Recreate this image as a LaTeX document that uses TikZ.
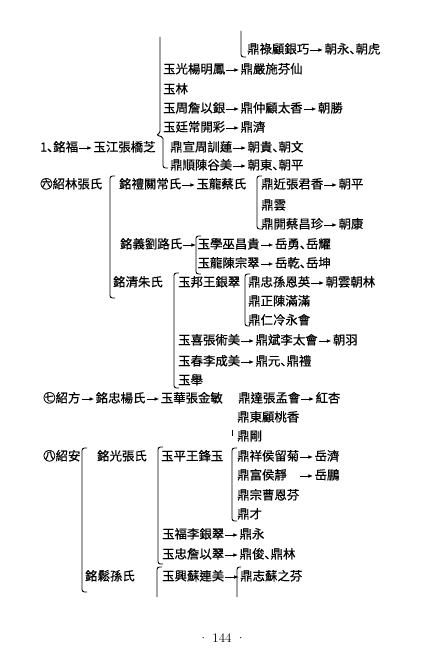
\documentclass[tikz,border=0pt]{standalone}
\usepackage{fontspec}
\newfontfamily\cjk[FakeBold=0.5]{Noto Sans CJK TC}
\newfontfamily\cjkjp[FakeBold=0.5]{Noto Sans CJK JP}
\usetikzlibrary{positioning,arrows.meta}
\newcommand\dunhao{{\cjkjp 、}\kern-0.5em}
\tikzset{
  entry/.style={inner sep=0pt, anchor=west, text height=9.5pt, text depth=2.5pt,
    font=\cjk\fontsize{12.4}{14}\selectfont},
  link/.style={-{Latex[length=4.5pt,width=3.6pt]}, line width=0.6pt,
    shorten <=1pt, shorten >=1.5pt},
  famline/.style={line width=0.9pt, rounded corners=2.5pt}
}
\begin{document}
\begin{tikzpicture}[x=1pt, y=-1pt, node distance=15pt]
    \useasboundingbox[fill=white] (0,0) rectangle (436,650);

    % Branch of 1、銘福 (continued from the previous page)
    \draw[famline] (241,31) -- (241,57) -- (246,57);
    \node[entry] (lu) at (247,50) {鼎祿顧銀巧};
    \node[entry, right=of lu] (luson) {朝永\dunhao 朝虎};
    \draw[link] (lu) -- (luson);

    \draw[famline] (160,37) -- (160,129) .. controls (160,133) and (158,134) .. (156,135)
        .. controls (160,136) and (163,137) .. (163,141) -- (163,168) -- (168,168);
    \node[entry] (gy) at (163,70) {玉光楊明鳳};
    \node[entry, right=of gy] (gyson) {鼎嚴施芬仙};
    \draw[link] (gy) -- (gyson);
    \node[entry] (yl) at (163,90) {玉林};
    \node[entry] (yz) at (163,109) {玉周詹以銀};
    \node[entry, right=of yz] (yzson) {鼎仲顧太香};
    \node[entry, right=of yzson] (yzgson) {朝勝};
    \draw[link] (yz) -- (yzson);
    \draw[link] (yzson) -- (yzgson);
    \node[entry] (yt) at (163,128) {玉廷常開彩};
    \node[entry, right=of yt] (ytson) {鼎濟};
    \draw[link] (yt) -- (ytson);

    \node[entry] (mf) at (40,148) {1\dunhao 銘福};
    \node[entry, right=of mf] (yj1) {玉江張橋芝};
    \draw[link] (mf) -- (yj1);
    \node[entry] (dx) at (170,148) {鼎宣周訓蓮};
    \node[entry, right=of dx] (dxson) {朝貴\dunhao 朝文};
    \draw[link] (dx) -- (dxson);
    \node[entry] (ds) at (170,166) {鼎順陳谷美};
    \node[entry, right=of ds] (dsson) {朝東\dunhao 朝平};
    \draw[link] (ds) -- (dsson);

    % Branch six: 紹林張氏
    \node[entry] (s6) at (40,185) {㊅紹林張氏};
    \draw[famline] (115,176) -- (110,176) -- (110,298) -- (115,298);
    \node[entry] (ml) at (119,185) {銘禮關常氏};
    \node[entry, right=of ml] (ylc1) {玉龍蔡氏};
    \draw[link] (ml) -- (ylc1);
    \draw[famline] (262,176) -- (257,176) -- (257,229) -- (262,229);
    \node[entry] (dj) at (261,185) {鼎近張君香};
    \node[entry, right=of dj] (djson) {朝平};
    \draw[link] (dj) -- (djson);
    \node[entry] (dy) at (261,206) {鼎雲};
    \node[entry] (dk) at (261,225) {鼎開蔡昌珍};
    \node[entry, right=of dk] (dkson) {朝康};
    \draw[link] (dk) -- (dkson);

    \node[entry] (my) at (120,245) {銘義劉路氏};
    \draw[famline] (201,236) -- (196,236) -- (196,274) -- (201,274);
    \node[entry, right=of my] (yxw) {玉學巫昌貴};
    \node[entry, right=of yxw] (yxwson) {岳勇\dunhao 岳耀};
    \draw[link] (my) -- (yxw);
    \draw[link] (yxw) -- (yxwson);
    \node[entry] (ylc2) at (yxw.west |- 0,264) {玉龍陳宗翠};
    \node[entry, right=of ylc2] (ylc2son) {岳乾\dunhao 岳坤};
    \draw[link] (ylc2) -- (ylc2son);

    \node[entry] (mq) at (113,283) {銘清朱氏};
    \draw[famline] (179,273) -- (174,273) -- (174,388) -- (179,388);
    \node[entry] (yb) at (178,283) {玉邦王銀翠};
    \draw[famline] (250,274) -- (245,274) -- (245,326) -- (250,326);
    \node[entry] (dzs) at (248,283) {鼎忠孫恩英};
    \node[entry, right=of dzs] (dzsson) {朝雲朝林};
    \draw[link] (dzs) -- (dzsson);
    \node[entry] (dzc) at (248,302) {鼎正陳滿滿};
    \node[entry] (drl) at (248,321) {鼎仁冷永會};
    \node[entry] (yxz) at (178,341) {玉喜張術美};
    \node[entry, right=of yxz] (yxzson) {鼎斌李太會};
    \node[entry, right=of yxzson] (yxzgson) {朝羽};
    \draw[link] (yxz) -- (yxzson);
    \draw[link] (yxzson) -- (yxzgson);
    \node[entry] (ycl) at (178,362) {玉春李成美};
    \node[entry, right=of ycl] (yclson) {鼎元\dunhao 鼎禮};
    \draw[link] (ycl) -- (yclson);
    \node[entry] (yju) at (178,381) {玉舉};

    % Branch seven: 紹方
    \node[entry] (s7) at (43,399) {㊆紹方};
    \node[entry, right=of s7] (mzy) {銘忠楊氏};
    \node[entry, right=of mzy] (yhz) {玉華張金敏};
    \draw[link] (s7) -- (mzy);
    \draw[link] (mzy) -- (yhz);
    \node[entry] (dda) at (238,399) {鼎達張孟會};
    \node[entry, right=of dda] (ddason) {紅杏};
    \draw[link] (dda) -- (ddason);
    \node[entry] (ddg) at (237,418) {鼎東顧桃香};
    \draw[line width=0.7pt] (232,430) -- (232,436);
    \node[entry] (dga) at (237,437) {鼎剛};

    % Branch eight: 紹安
    \node[entry] (s8) at (43,457) {㊇紹安};
    \draw[famline] (87,448) -- (82,448) -- (82,592) -- (87,592);
    \node[entry] (mgz) at (97,457) {銘光張氏};
    \draw[famline] (163,447) -- (158,447) -- (158,564) -- (163,564);
    \node[entry] (ypw) at (161,457) {玉平王鋒玉};
    \draw[famline] (237,448) -- (232,448) -- (232,521) -- (237,521);
    \node[entry] (dxh) at (237,457) {鼎祥侯留菊};
    \node[entry, right=of dxh] (dxhson) {岳濟};
    \draw[link] (dxh) -- (dxhson);
    \node[entry] (dfh) at (237,476) {鼎富侯靜};
    \node[entry] (dfhson) at (dxhson.west |- 0,476) {岳鵬};
    \draw[link] ([xshift=12pt]dfh.east) -- (dfhson);
    \node[entry] (dzcf) at (237,496) {鼎宗曹恩芬};
    \node[entry] (dca) at (237,515) {鼎才};
    \node[entry] (yfl) at (162,535) {玉福李銀翠};
    \node[entry, right=of yfl] (yflson) {鼎永};
    \draw[link] (yfl) -- (yflson);
    \node[entry] (yzy) at (162,555) {玉忠詹以翠};
    \node[entry, right=of yzy] (yzyson) {鼎俊\dunhao 鼎林};
    \draw[link] (yzy) -- (yzyson);

    \node[entry] (mss) at (85,577) {銘鬆孫氏};
    \draw[famline] (162,567) -- (157,567) -- (157,597);
    \node[entry] (yxs) at (162,577) {玉興蘇連美};
    \draw[famline] (241,567) -- (237,567) -- (237,597);
    \node[entry] (dzz) at (240,577) {鼎志蘇之芬};
    \draw[link] (yxs) -- (dzz);

    % Page number
    \node[font=\fontsize{13}{15}\selectfont] (page) at (222,638)
        {\textperiodcentered\ 144\ \textperiodcentered};
\end{tikzpicture}
\end{document}
